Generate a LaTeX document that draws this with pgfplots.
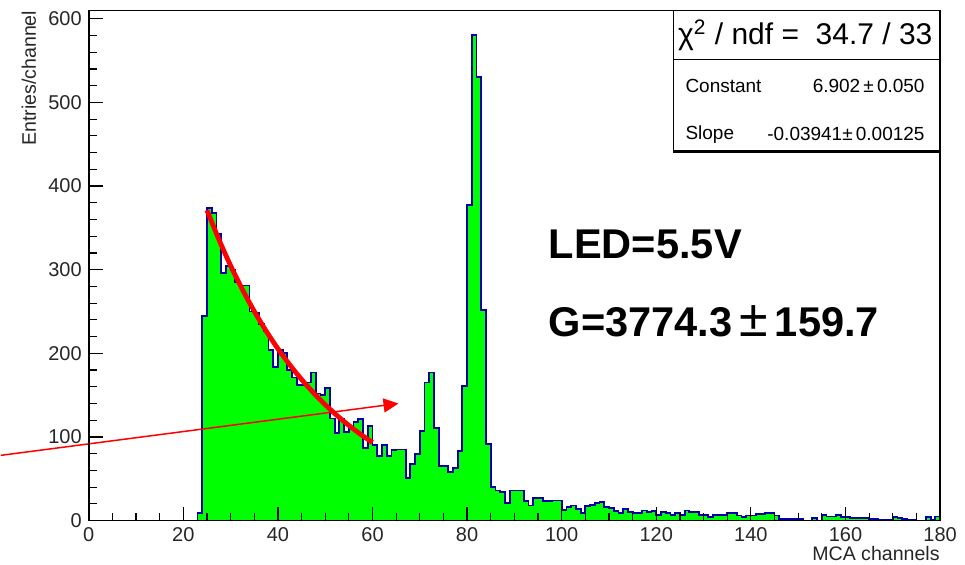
\documentclass[border=0pt]{standalone}
\usepackage{fontspec}
\setmainfont{Liberation Sans}
\usepackage{pgfplots}
\pgfplotsset{compat=1.18}
\usetikzlibrary{arrows.meta}
\definecolor{histgreen}{RGB}{0,255,0}
\definecolor{histblue}{RGB}{0,0,170}
\definecolor{fitred}{RGB}{255,0,0}
\begin{document}
\begin{tikzpicture}
\begin{axis}[
  scale only axis, width=426pt, height=255.3pt,
  xmin=0, xmax=180, ymin=0, ymax=610,
  xtick={0,20,...,180}, ytick={0,100,...,600},
  minor x tick num=3, minor y tick num=4,
  tick pos=left, tick align=inside,
  major tick length=7pt, minor tick length=4pt,
  axis line style={line width=0.8pt},
  tick style={black, line width=0.6pt},
  ticklabel style={font=\fontsize{10}{12}\selectfont, text=black!85},
  /pgf/number format/assume math mode=true,
  xlabel={MCA channels}, ylabel={Entries/channel},
  xlabel style={at={(rel axis cs:1,-0.064)}, anchor=east, inner sep=0pt, font=\fontsize{9.8}{12}\selectfont, text=black!85},
  ylabel style={at={(rel axis cs:-0.0704,1)}, anchor=east, inner sep=0pt, font=\fontsize{9.8}{12}\selectfont, text=black!85},
  clip=false, axis on top,
]
\addplot[const plot, fill=histgreen, draw=histblue, line width=0.9pt] coordinates {
(0,0) (23,9) (24,245) (25,374) (26,368) (27,343) (28,296) (29,304) (30,300)
(31,285) (32,281) (33,281) (34,250) (35,248) (36,235) (37,226) (38,204) (39,184) (40,204)
(41,200) (42,180) (43,171) (44,162) (45,162) (46,165) (47,177) (48,152) (49,150) (50,159)
(51,122) (52,105) (53,121) (54,106) (55,112) (56,118) (57,121) (58,87) (59,113) (60,90)
(61,77) (62,90) (63,77) (64,84) (65,85) (66,85) (67,51) (68,68) (69,80) (70,107)
(71,165) (72,177) (73,111) (74,65) (75,65) (76,58) (77,63) (78,83) (79,161) (80,377)
(81,581) (82,530) (83,252) (84,92) (85,40) (86,36) (87,34) (88,21) (89,36) (90,36)
(91,36) (92,23) (93,18) (94,27) (95,27) (96,23) (97,23) (98,24) (99,24) (100,13)
(101,16) (102,18) (103,14) (104,9) (105,17) (106,19) (107,21) (108,22) (109,16) (110,15)
(111,11) (112,9) (113,14) (114,10) (115,9) (116,9) (117,12) (118,10) (119,11) (120,7)
(121,10) (122,9) (123,7) (124,9) (125,7) (126,12) (127,10) (128,10) (129,7) (130,7)
(131,4) (132,7) (133,7) (134,7) (135,9) (136,9) (137,6) (138,4) (139,6) (140,6)
(141,8) (142,8) (143,9) (144,9) (145,6) (146,2) (147,2) (148,2) (149,2) (150,2)
(151,0) (152,0) (153,3) (154,0) (155,7) (156,5) (157,5) (158,7) (159,4) (160,4)
(161,3) (162,3) (163,3) (164,3) (165,2) (166,2) (167,1) (168,1) (169,1) (170,4)
(171,3) (172,2) (173,1) (174,1) (175,0) (176,0) (177,4) (178,1) (179,5) (180,5)
} \closedcycle;
\addplot[fitred, line width=2.4pt, smooth] coordinates {
(25,371.2) (27.5,336.4) (30,304.8) (32.5,276.2) (35,250.3) (37.5,226.8) (40,205.5)
(42.5,186.3) (45,168.8) (47.5,152.9) (50,138.6) (52.5,125.6) (55,113.8) (57.5,103.1) (60,93.4)
};
% annotation arrow
\draw[fitred, line width=0.75pt, -{Triangle[length=7.5pt,width=7pt]}] (axis cs:-18.6,78) -- (axis cs:65.5,140);
% text annotations
\node[anchor=west, inner sep=0pt, font=\bfseries\fontsize{20.8}{24}\selectfont] at (axis cs:97.2,330) {LED=5.5V};
\node[anchor=west, inner sep=0pt, font=\bfseries\fontsize{20.8}{24}\selectfont] at (axis cs:97.2,238) {G=3774.3\,{\mdseries\fontsize{26}{28}\selectfont ±}\,159.7};
% stats box
\draw[fill=white, line width=0.6pt] (axis cs:123.6,441) rectangle (axis cs:180,610);
\draw[line width=1.4pt] (axis cs:123.6,441) -- (axis cs:180,441) -- (axis cs:180,610);
\draw[line width=0.6pt] (axis cs:123.6,551) -- (axis cs:180,551);
\node[font=\fontsize{15}{18}\selectfont] at (axis cs:151.5,580) {χ\textsuperscript{2} / ndf = \ 34.7 / 33};
\node[anchor=west, inner sep=0pt, font=\fontsize{9.5}{11}\selectfont] at (axis cs:126.1,519.7) {Constant};
\node[anchor=east, inner sep=0pt, font=\fontsize{9.5}{11}\selectfont] at (axis cs:176.8,519.7) {6.902\,±\,0.050};
\node[anchor=west, inner sep=0pt, font=\fontsize{9.5}{11}\selectfont] at (axis cs:126.1,462) {Slope};
\node[anchor=east, inner sep=0pt, font=\fontsize{9.5}{11}\selectfont] at (axis cs:176.8,462) {-0.03941±\,0.00125};
% page extent
\path (rel axis cs:-0.1033,-0.0862) rectangle (rel axis cs:1.0293,1.0204);
\end{axis}
\end{tikzpicture}
\end{document}
